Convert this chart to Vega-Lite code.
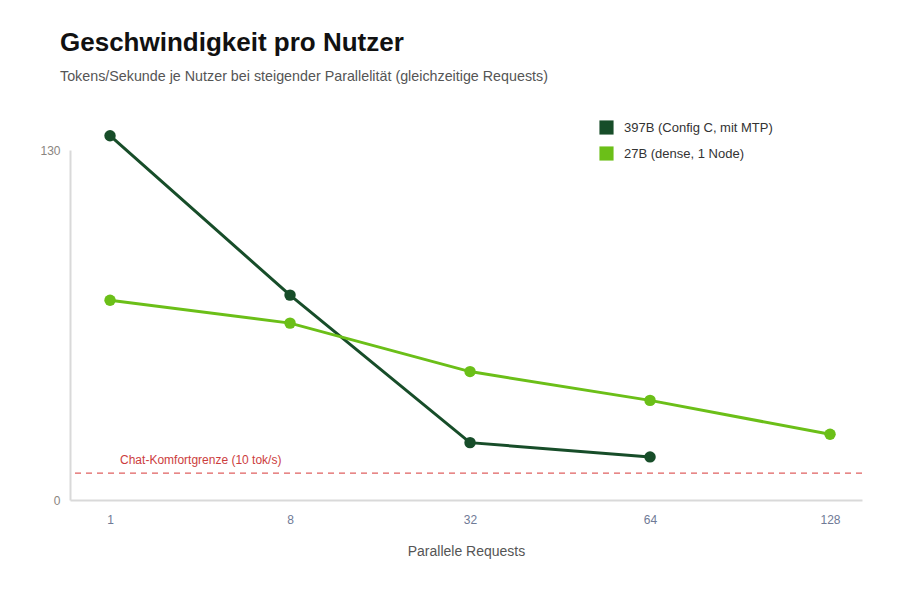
{
  "$schema": "https://vega.github.io/schema/vega-lite/v6.json",
  "autosize": {"type": "none"},
  "width": 792,
  "height": 350,
  "padding": {"left": 70, "top": 150, "right": 38, "bottom": 100},
  "config": {
    "view": {"stroke": "transparent"},
    "font": "Liberation Sans",
    "background": "white"
  },
  "title": {
    "text": "Geschwindigkeit pro Nutzer",
    "subtitle": "Tokens/Sekunde je Nutzer bei steigender Parallelität (gleichzeitige Requests)",
    "anchor": "start",
    "frame": "group",
    "dx": -10,
    "offset": 36,
    "fontSize": 26,
    "fontWeight": "bold",
    "color": "#111111",
    "subtitleFontSize": 14.3,
    "subtitleColor": "#555555",
    "subtitlePadding": 14
  },
  "datasets": {
    "speed": [
      {"requests": 1, "model": "397B (Config C, mit MTP)", "tps": 135.3},
      {"requests": 8, "model": "397B (Config C, mit MTP)", "tps": 76.1},
      {"requests": 32, "model": "397B (Config C, mit MTP)", "tps": 21.3},
      {"requests": 64, "model": "397B (Config C, mit MTP)", "tps": 16.0},
      {"requests": 1, "model": "27B (dense, 1 Node)", "tps": 74.2},
      {"requests": 8, "model": "27B (dense, 1 Node)", "tps": 65.7},
      {"requests": 32, "model": "27B (dense, 1 Node)", "tps": 47.7},
      {"requests": 64, "model": "27B (dense, 1 Node)", "tps": 37.0},
      {"requests": 128, "model": "27B (dense, 1 Node)", "tps": 24.4}
    ],
    "limit": [{"requests": 1, "tps": 10, "label": "Chat-Komfortgrenze (10 tok/s)"}]
  },
  "encoding": {
    "x": {
      "field": "requests",
      "type": "ordinal",
      "scale": {"type": "point", "padding": 0.2, "align": 0.556},
      "axis": {
        "title": "Parallele Requests",
        "labelAngle": 0,
        "labelColor": "#6f7a96",
        "labelFontSize": 12,
        "labelPadding": 14,
        "titleColor": "#555555",
        "titleFontSize": 14,
        "titleFontWeight": "normal",
        "titlePadding": 19,
        "ticks": false,
        "grid": false,
        "domainColor": "#d9d9d9",
        "domainWidth": 2
      }
    },
    "y": {
      "field": "tps",
      "type": "quantitative",
      "scale": {"domain": [0, 130], "nice": false},
      "axis": {
        "title": null,
        "values": [0, 130],
        "labelColor": "#8a8580",
        "labelFontSize": 12,
        "labelPadding": 10,
        "ticks": false,
        "grid": false,
        "domainColor": "#d9d9d9",
        "domainWidth": 2
      }
    }
  },
  "layer": [
    {
      "data": {"name": "limit"},
      "mark": {"type": "rule", "color": "#e06060", "strokeDash": [6, 5], "strokeWidth": 1.3},
      "encoding": {"x": null}
    },
    {
      "data": {"name": "limit"},
      "mark": {"type": "text", "align": "left", "baseline": "alphabetic", "dx": 10, "dy": -9, "fontSize": 12, "color": "#cc3d3d"},
      "encoding": {"text": {"field": "label"}}
    },
    {
      "data": {"name": "speed"},
      "mark": {"type": "line", "strokeWidth": 3, "point": {"filled": true, "size": 130, "opacity": 1}},
      "encoding": {
        "color": {
          "field": "model",
          "type": "nominal",
          "scale": {
            "domain": ["397B (Config C, mit MTP)", "27B (dense, 1 Node)"],
            "range": ["#174d29", "#6bbf18"]
          },
          "legend": {
            "title": null,
            "orient": "none",
            "legendX": 529,
            "legendY": -30,
            "symbolType": "square",
            "symbolSize": 200,
            "symbolStrokeWidth": 0,
            "labelFontSize": 13,
            "labelColor": "#333333",
            "rowPadding": 11,
            "labelOffset": 10
          }
        }
      }
    }
  ]
}
